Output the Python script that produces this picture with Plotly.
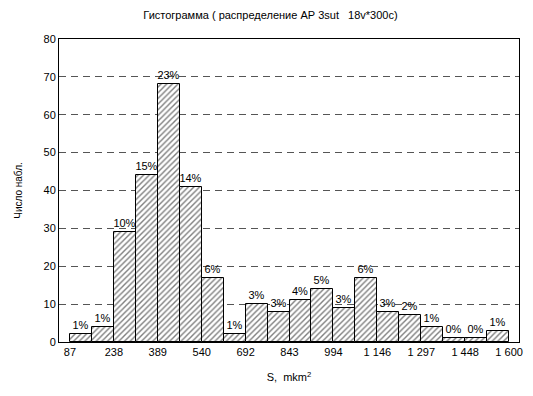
import plotly.graph_objects as go

counts = [2, 4, 29, 44, 68, 41, 17, 2, 10, 8, 11, 14, 9, 17, 8, 7, 4, 1, 1, 3]
pct_labels = ["1%", "1%", "10%", "15%", "23%", "14%", "6%", "1%", "3%", "3%",
              "4%", "5%", "3%", "6%", "3%", "2%", "1%", "0%", "0%", "1%"]
bin_start = 87.0
bin_end = 1600.0
tick_vals = [87, 238.3, 389.6, 540.9, 692.2, 843.5, 994.8, 1146.1, 1297.4, 1448.7, 1600]
tick_text = ["87", "238", "389", "540", "692", "843", "994", "1 146", "1 297", "1 448", "1 600"]

n = len(counts)
w = (bin_end - bin_start) / n
centers = [bin_start + (i + 0.5) * w for i in range(n)]

FONT = "Liberation Sans, Arial, sans-serif"
NB = "\u00a0"

fig = go.Figure()
fig.add_trace(go.Bar(
    x=centers, y=counts, width=[w] * n,
    text=pct_labels, textposition="outside", constraintext="none",
    textfont=dict(family=FONT, size=11, color="black"),
    cliponaxis=False,
    marker=dict(color="white",
                line=dict(color="black", width=1),
                pattern=dict(shape="/", size=4, solidity=0.35,
                             fgcolor="black", bgcolor="white")),
    showlegend=False,
))

# the page body has an 8px margin, so the figure is 8px smaller than the window
fig.update_layout(
    width=525, height=388,
    margin=dict(l=51, r=10, t=31, b=54),
    paper_bgcolor="white", plot_bgcolor="white",
    font=dict(family=FONT, size=11, color="black"),
    title=dict(text="Гистограмма" + NB + "(" + NB + "распределение" + NB + "AP" + NB + "3sut"
                    + NB * 3 + "18v*300c)",
               font=dict(family=FONT, size=11, color="black"),
               x=0.5, xanchor="center", y=1 - 7 / 388, yanchor="middle",
               yref="container"),
    bargap=0,
)
fig.update_xaxes(
    range=[49.4, 1634], tickvals=tick_vals, ticktext=tick_text,
    showline=True, linecolor="black", linewidth=1, mirror=True,
    showgrid=False, zeroline=False, ticks="",
    tickfont=dict(size=11),
    title=dict(text="S," + NB + NB + "mkm<sup>2</sup>", font=dict(size=11), standoff=16),
)
fig.update_yaxes(
    range=[0, 80], dtick=10,
    showline=True, linecolor="black", linewidth=1, mirror=True,
    showgrid=True, gridcolor="#555555", griddash="7px,5px", gridwidth=1,
    zeroline=False, ticks="",
    tickfont=dict(size=11),
    title=dict(text="Число набл.", font=dict(size=10), standoff=19),
)

fig.write_html("out.html")
